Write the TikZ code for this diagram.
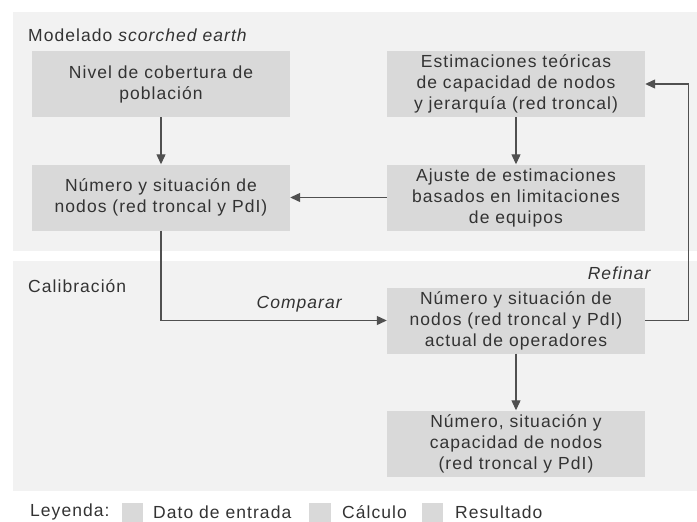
\documentclass[tikz,border=0pt]{standalone}
\usepackage{fontspec}
\setmainfont[LetterSpace=6]{Liberation Sans}
\usetikzlibrary{arrows.meta}

\definecolor{panelgray}{HTML}{F2F2F2}
\definecolor{boxgray}{HTML}{D9D9D9}
\definecolor{linegray}{HTML}{505050}
\definecolor{textgray}{HTML}{333333}

\begin{document}
\begin{tikzpicture}[x=1pt,y=-1pt,>={Triangle[length=10pt,width=9pt]},font=\fontsize{17.5}{21}\selectfont,text=textgray]
		\tikzstyle{box}=[fill=boxgray,minimum width=258pt,minimum height=66pt,align=center,inner sep=0pt,execute at begin node={\rule{0pt}{23pt}}]
		\tikzstyle{conn}=[draw=linegray,line width=1.2pt]
		\tikzstyle{key}=[fill=boxgray]

		\useasboundingbox (0,0) rectangle (697,522);

		% panels
		\fill[panelgray] (13,12) rectangle (697,251);
		\fill[panelgray] (13,261) rectangle (697,491);

		\node[anchor=west,inner sep=0pt](t1) at (28,35){Modelado \textit{scorched earth}};
		\node[anchor=west,inner sep=0pt](t2) at (28,286){Calibración};

		\node[box](cob) at (161,84){Nivel de cobertura de\\población};
		\node[box](num) at (161,197.5){Número y situación de\\nodos (red troncal y PdI)};
		\node[box](est) at (516,84){Estimaciones teóricas\\de capacidad de nodos\\y jerarquía (red troncal)};
		\node[box](aju) at (516,197.5){Ajuste de estimaciones\\basados en limitaciones\\de equipos};
		\node[box](act) at (516,320.5){Número y situación de\\nodos (red troncal y PdI)\\actual de operadores};
		\node[box](res) at (516,443.5){Número, situación y\\capacidad de nodos\\(red troncal y PdI)};

		\node[inner sep=0pt](cmp) at (300,304){\textit{Comparar}};
		\node[inner sep=0pt](ref) at (620,273){\textit{Refinar}};

		\draw[conn,->] (cob) -- (num);
		\draw[conn,->] (est) -- (aju);
		\draw[conn,->] (aju) -- (num);
		\draw[conn,->] (num.south) |- (act.west);
		\draw[conn,->] (act.east) -| ([xshift=43pt]est.east) -- (est.east);
		\draw[conn,->] (act) -- (res);

		% legend
		\node[anchor=west,inner sep=0pt](ley) at (30,512){Leyenda:};
		\fill[key] (122,503) rectangle (143,522);
		\node[anchor=west,inner sep=0pt](dat) at (153,512){Dato de entrada};
		\fill[key] (309,503) rectangle (331,522);
		\node[anchor=west,inner sep=0pt](cal) at (342,512){Cálculo};
		\fill[key] (422,503) rectangle (443,522);
		\node[anchor=west,inner sep=0pt](rsl) at (455,512){Resultado};
\end{tikzpicture}
\end{document}
